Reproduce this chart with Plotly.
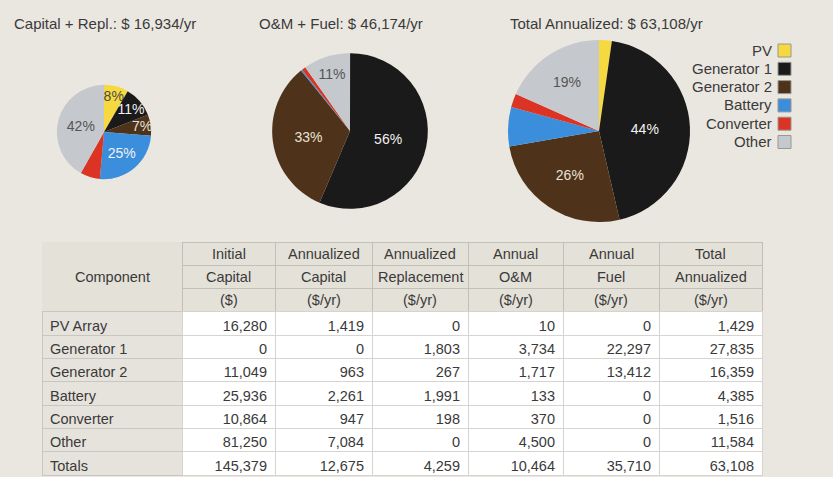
import plotly.graph_objects as go
import math

# ---------------- data ----------------
categories = ["PV", "Generator 1", "Generator 2", "Battery", "Converter", "Other"]
components = ["PV Array", "Generator 1", "Generator 2", "Battery", "Converter", "Other", "Totals"]
initial_capital = [16280, 0, 11049, 25936, 10864, 81250, 145379]
annualized_capital = [1419, 0, 963, 2261, 947, 7084, 12675]
annualized_replacement = [0, 1803, 267, 1991, 198, 0, 4259]
annual_om = [10, 3734, 1717, 133, 370, 4500, 10464]
annual_fuel = [0, 22297, 13412, 0, 0, 0, 35710]
total_annualized = [1429, 27835, 16359, 4385, 1516, 11584, 63108]

header_lines = [
    ["", "Component", ""],
    ["Initial", "Capital", "($)"],
    ["Annualized", "Capital", "($/yr)"],
    ["Annualized", "Replacement", "($/yr)"],
    ["Annual", "O&M", "($/yr)"],
    ["Annual", "Fuel", "($/yr)"],
    ["Total", "Annualized", "($/yr)"],
]

pie_titles = ["Capital + Repl.: $ 16,934/yr", "O&M + Fuel: $ 46,174/yr", "Total Annualized: $ 63,108/yr"]
cap_labels = ["8%", "11%", "7%", "25%", "", "42%"]
om_labels = ["", "56%", "33%", "", "", "11%"]
tot_labels = ["", "44%", "26%", "", "", "19%"]

# ---------------- styles ----------------
BG = "#EAE7E0"
HEAD = "#E4E1D9"
FIRST = "#E6E3DC"
slice_colors = ["#F6D93F", "#1B1A1A", "#4E3219", "#3A8EDB", "#DC3424", "#C5C8CC"]
label_colors = ["#4A4A4A", "#F2F2F2", "#E8E2D8", "#F2F2F2", "#F2F2F2", "#555555"]
FONT = "Liberation Sans, Arial, sans-serif"
TXT = "#3A3A3A"
W, H = 833, 477

n = len(categories)
cap_repl = [annualized_capital[i] + annualized_replacement[i] for i in range(n)]
om_fuel = [annual_om[i] + annual_fuel[i] for i in range(n)]
total_vals = total_annualized[:n]

pie_sets = [(cap_repl, cap_labels), (om_fuel, om_labels), (total_vals, tot_labels)]
centers = [(104, 132), (350, 131), (599, 131)]
R_MAX = 91
max_total = sum(total_vals)

fig = go.Figure()
for (vals, labs), (cx, cy) in zip(pie_sets, centers):
    r = R_MAX * math.sqrt(sum(vals) / max_total)
    fig.add_trace(go.Pie(
        labels=categories, values=vals, text=labs, texttemplate="%{text}",
        textposition="inside", insidetextorientation="horizontal",
        insidetextfont=dict(family=FONT, size=14, color=label_colors),
        marker=dict(colors=slice_colors, line=dict(width=0)),
        sort=False, direction="clockwise", rotation=0,
        showlegend=False, hoverinfo="label+value+percent",
        domain=dict(x=[(cx - r) / W, (cx + r) / W], y=[1 - (cy + r) / H, 1 - (cy - r) / H]),
    ))

# ---------------- table ----------------
ROW_H = 23.3
T_LEFT, T_RIGHT, T_TOP = 42, 762, 242
col_widths = [140, 93, 97, 96, 95, 96, 103]
TFONT = dict(family=FONT, size=14.5, color=TXT)
nh = len(header_lines[0])
ncol = len(header_lines)
head_bottom = T_TOP + nh * ROW_H

# header block: three stacked gray rows (labels are placed as annotations below)
head_line = [[HEAD] * nh] + [["#C2BFB8"] * nh for _ in range(ncol - 1)]
blank = [[""] * (nh - 1) for _ in range(ncol)]
fig.add_trace(go.Table(
    columnwidth=col_widths,
    header=dict(values=[""] * ncol, fill=dict(color=HEAD),
                line=dict(color=[h[0] for h in head_line], width=1), height=ROW_H, font=TFONT),
    cells=dict(values=blank, fill=dict(color=HEAD),
               line=dict(color=[h[1:] for h in head_line], width=1), height=ROW_H, font=TFONT),
    domain=dict(x=[T_LEFT / W, T_RIGHT / W], y=[1 - (head_bottom + 30) / H, 1 - T_TOP / H]),
))

# data block
numeric_cols = [initial_capital, annualized_capital, annualized_replacement,
                annual_om, annual_fuel, total_annualized]
cols = [components] + [[f"{v:,}" for v in col] for col in numeric_cols]
data_fill = [FIRST] + ["#FFFFFF"] * len(numeric_cols)
data_line = ["#C9C6BF"] + ["#D6D4CF"] * len(numeric_cols)
data_align = ["left"] + ["right"] * len(numeric_cols)
fig.add_trace(go.Table(
    columnwidth=col_widths,
    header=dict(values=[c[0] for c in cols], fill=dict(color=data_fill), align=data_align,
                line=dict(color=data_line, width=1), height=ROW_H, font=TFONT),
    cells=dict(values=[c[1:] for c in cols], fill=dict(color=data_fill), align=data_align,
               line=dict(color=data_line, width=1), height=ROW_H, font=TFONT),
    domain=dict(x=[T_LEFT / W, T_RIGHT / W], y=[0, 1 - head_bottom / H]),
))

annotations = []
# header labels, centred in their column / sub-row
scale = (T_RIGHT - T_LEFT) / sum(col_widths)
x_edge = T_LEFT
for j, lines in enumerate(header_lines):
    cw = col_widths[j] * scale
    for k, t in enumerate(lines):
        if not t:
            continue
        yc = T_TOP + (k + 0.5) * ROW_H
        annotations.append(dict(text=t, x=(x_edge + cw / 2) / W, y=1 - yc / H,
                                xref="paper", yref="paper", xanchor="center", yanchor="middle",
                                showarrow=False, font=TFONT))
    x_edge += cw

# ---------------- titles & legend ----------------
title_x = [12, 257, 508]
for t, x in zip(pie_titles, title_x):
    annotations.append(dict(text=t, x=x / W, y=1 - 24 / H, xref="paper", yref="paper",
                            xanchor="left", yanchor="middle", showarrow=False,
                            font=dict(family=FONT, size=15, color=TXT)))
shapes = []
LEG_X, LEG_Y0, LEG_DY = 774, 50, 18.3
for i, (c, col) in enumerate(zip(categories, slice_colors)):
    yc = LEG_Y0 + i * LEG_DY
    annotations.append(dict(text=c, x=LEG_X / W, y=1 - yc / H, xref="paper", yref="paper",
                            xanchor="right", yanchor="middle", showarrow=False,
                            font=dict(family=FONT, size=15, color=TXT)))
    shapes.append(dict(type="rect", xref="paper", yref="paper",
                       x0=(LEG_X + 4) / W, x1=(LEG_X + 17) / W,
                       y0=1 - (yc + 7) / H, y1=1 - (yc - 6) / H,
                       fillcolor=col, line=dict(color="#9A9893", width=1)))

fig.update_layout(
    width=W, height=H, margin=dict(l=0, r=0, t=0, b=0),
    paper_bgcolor=BG, plot_bgcolor=BG,
    annotations=annotations, shapes=shapes,
    uniformtext=dict(mode="show", minsize=14),
)
fig.write_html("out.html", config={"displayModeBar": False},
               post_script="document.body.style.margin='0';document.body.style.background='%s';" % BG)
